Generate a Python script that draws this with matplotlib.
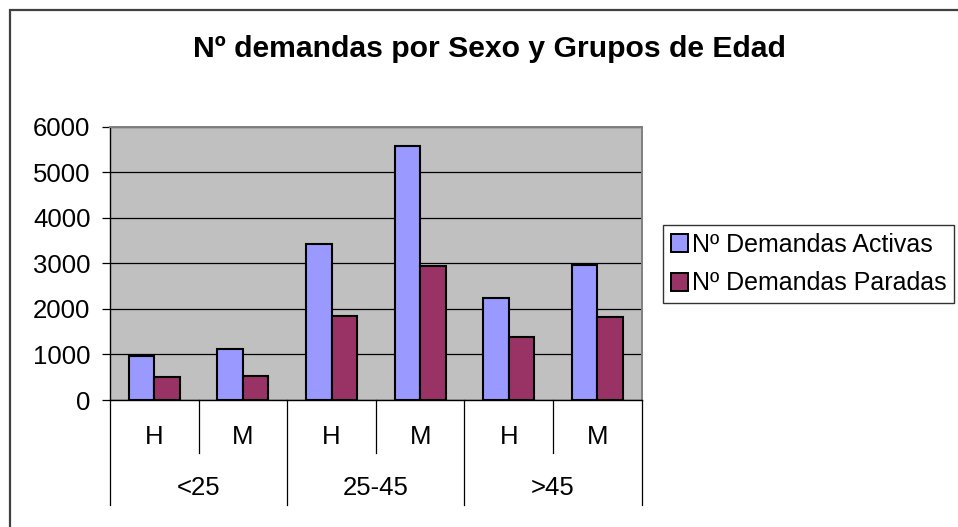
import matplotlib
matplotlib.use("Agg")
import matplotlib.pyplot as plt
import matplotlib.transforms as mtransforms
from matplotlib.patches import Rectangle
import numpy as np

plt.rcParams['font.family'] = ['Liberation Sans', 'DejaVu Sans']

# ---- data ----
sexo = ["H", "M", "H", "M", "H", "M"]
grupos = ["<25", "25-45", ">45"]
activas = [965, 1125, 3430, 5580, 2235, 2970]
paradas = [510, 520, 1850, 2945, 1375, 1820]
series_names = ["Nº Demandas Activas", "Nº Demandas Paradas"]
title = "Nº demandas por Sexo y Grupos de Edad"
yticks = [0, 1000, 2000, 3000, 4000, 5000, 6000]

W, H = 958, 527
fig = plt.figure(figsize=(W / 100, H / 100), dpi=100)
fig.patch.set_facecolor("white")

# outer chart frame
fig.patches.append(Rectangle((10 / W, -0.05), 1.2, 1 - 10 / H + 0.05, transform=fig.transFigure,
                             fill=False, edgecolor="#404040", linewidth=1.6))

left, right = 110 / W, 641.7 / W
bottom, top = 1 - 400 / H, 1 - 126.7 / H
ax = fig.add_axes([left, bottom, right - left, top - bottom])
ax.set_facecolor("#C0C0C0")

x = np.arange(len(sexo))
w = 0.287
ax.bar(x - w / 2, activas, w, color="#9999FF", edgecolor="black", linewidth=1.5,
       label=series_names[0], zorder=3)
ax.bar(x + w / 2, paradas, w, color="#993366", edgecolor="black", linewidth=1.5,
       label=series_names[1], zorder=3)

ax.set_xlim(-0.5, len(sexo) - 0.5)
ax.set_ylim(0, 6000)
ax.set_yticks(yticks)
ax.set_yticklabels([str(v) for v in yticks])
ax.yaxis.grid(True, color="black", linewidth=0.9, zorder=1)
ax.set_axisbelow(True)
ax.tick_params(axis="y", direction="out", length=6, width=0.9, pad=8, labelsize=18.5, colors="black")
ax.set_xticks([])

for s in ["top", "right"]:
    ax.spines[s].set_color("#808080")
    ax.spines[s].set_linewidth(1.4)
for s in ["left", "bottom"]:
    ax.spines[s].set_color("black")
    ax.spines[s].set_linewidth(1.0)

trans = mtransforms.blended_transform_factory(ax.transData, ax.transAxes)
# category separators
for i in range(len(sexo) + 1):
    b = i - 0.5
    depth = -0.384 if i % 2 == 0 else -0.195
    ax.plot([b, b], [0, depth], color="black", linewidth=0.9, transform=trans, clip_on=False)
for i, s in enumerate(sexo):
    ax.text(i, -0.135, s, transform=trans, ha="center", va="center", fontsize=18.5)
for g, name in enumerate(grupos):
    ax.text(2 * g + 0.5, -0.322, name, transform=trans, ha="center", va="center", fontsize=18.5)

fig.text(489 / W, 1 - 49 / H, title, ha="center", va="center", fontsize=21.7, fontweight="bold")

leg = fig.legend(loc="upper left", bbox_to_anchor=(663 / W, 1 - 225 / H), frameon=True,
                 fontsize=18, handlelength=0.7, handleheight=0.7, handletextpad=0.15,
                 borderpad=0.3, labelspacing=0.6, borderaxespad=0, fancybox=False)
leg.get_frame().set_edgecolor("black")
leg.get_frame().set_linewidth(1.0)
for p in leg.get_patches():
    p.set_linewidth(1.4)

fig.savefig("out.png", dpi=100)
